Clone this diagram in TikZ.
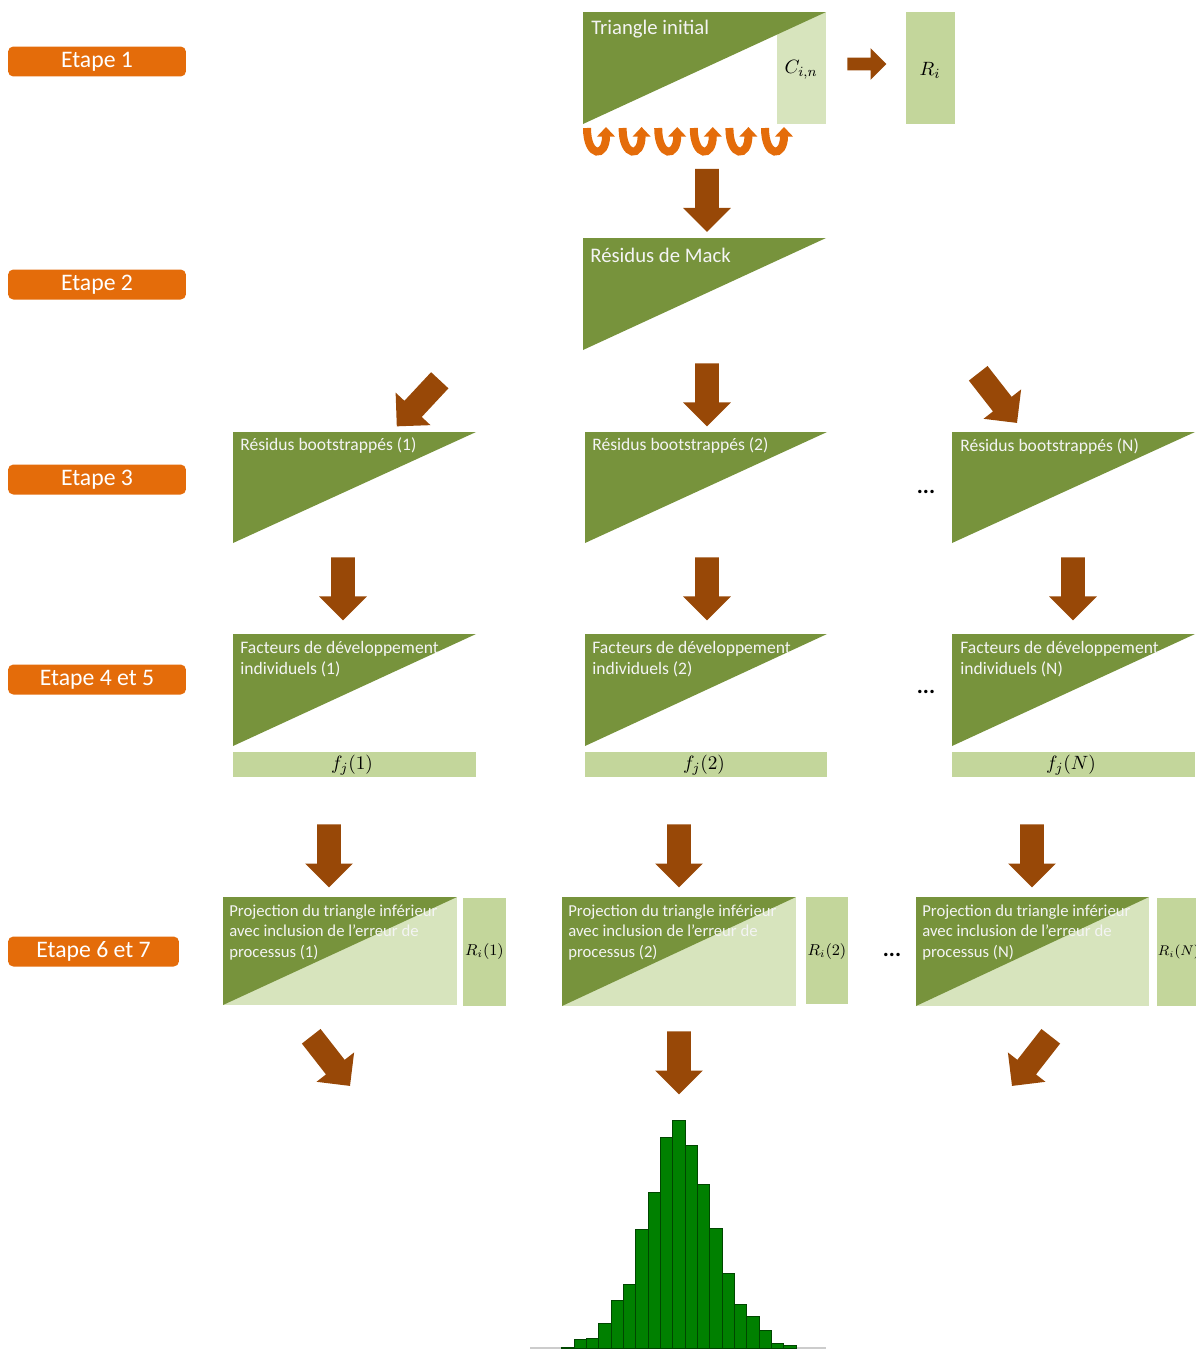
\documentclass[tikz,border=0pt]{standalone}
\usepackage{fontspec}
\setmainfont{Carlito}
\usetikzlibrary{shapes.arrows, arrows.meta, positioning}
\definecolor{OliveDark}{HTML}{77933C}
\definecolor{LightGreen}{HTML}{D7E4BD}
\definecolor{MidGreen}{HTML}{C3D69B}
\definecolor{EtapeOrange}{HTML}{E46C0A}
\definecolor{ArrowBrown}{HTML}{984807}
\definecolor{BarGreen}{HTML}{008000}
\definecolor{SoftWhite}{HTML}{F4F4F4}

\tikzset{
  etape/.style={fill=EtapeOrange, rounded corners=3pt, text=white, inner sep=0pt,
    font=\fontsize{13.5}{15}\selectfont, minimum width=3.56cm, minimum height=0.6cm},
  blockarrow/.style={single arrow, fill=ArrowBrown, draw=none, inner xsep=0pt,
    inner ysep=0.23cm, single arrow head extend=0.24cm, minimum height=1.26cm, anchor=tail},
  smallarrow/.style={blockarrow, inner ysep=0.12cm, single arrow head extend=0.19cm,
    minimum height=0.78cm},
  uturn/.style={draw=EtapeOrange, line width=0.16cm,
    -{Triangle[width=10pt, length=5.5pt]}},
  bigtext/.style={font=\fontsize{11.8}{14}\selectfont, text=SoftWhite, inner sep=0pt},
  smalltext/.style={font=\fontsize{10}{12}\selectfont, text=SoftWhite, inner sep=0pt, align=left},
  projtext/.style={font=\fontsize{9.5}{11.4}\selectfont, text=SoftWhite, inner sep=0pt, align=left},
  dots/.style={font=\fontsize{13}{15}\selectfont\bfseries, inner sep=0pt},
  bar/.style={fill=BarGreen, draw=BarGreen!55!black, line width=0.4pt}
}

\begin{document}
\begin{tikzpicture}[x=0.02cm, y=-0.02cm]
\useasboundingbox (0,0) rectangle (1196,1349);

% labels of the steps
\node[etape] (etape1) at (97,61.5) {Etape 1};
\node[etape] (etape2) at (97,284.5) {Etape 2};
\node[etape] (etape3) at (97,479.5) {Etape 3};
\node[etape] (etape45) at (97,679.5) {Etape 4 et 5};
\node[etape, minimum width=3.42cm] (etape67) at (93.5,951.5) {Etape 6 et 7};

% Etape 1
\fill[LightGreen] (777,12) rectangle (826,124);
\fill[OliveDark] (583,12) -- (826,12) -- (583,124) -- cycle;
\node[bigtext, anchor=base west] (triinit) at (591,34) {Triangle initial};
\node[font=\fontsize{11}{13}\selectfont] (cin) at (801,70) {$C_{i,n}$};
\node[smallarrow] (arrright) at (847,64) {};
\fill[MidGreen] (906,12) rectangle (955,124);
\node[font=\fontsize{11}{13}\selectfont] (ri) at (930,70) {$R_i$};

\draw[uturn] (587,128) .. controls (587,158) and (606,158) .. (606,127);
\draw[uturn] (622.6,128) .. controls (622.6,158) and (641.6,158) .. (641.6,127);
\draw[uturn] (658.2,128) .. controls (658.2,158) and (677.2,158) .. (677.2,127);
\draw[uturn] (693.8,128) .. controls (693.8,158) and (712.8,158) .. (712.8,127);
\draw[uturn] (729.4,128) .. controls (729.4,158) and (748.4,158) .. (748.4,127);
\draw[uturn] (765,128) .. controls (765,158) and (784,158) .. (784,127);

\node[blockarrow, rotate=-90] (arr1) at (707,168.5) {};

% Etape 2
\fill[OliveDark] (583,238) -- (826,238) -- (583,350) -- cycle;
\node[bigtext, anchor=base west] (mack) at (590,262) {Résidus de Mack};

\node[blockarrow, rotate=-133] (arr2a) at (440,380) {};
\node[blockarrow, rotate=-90] (arr2b) at (707,363) {};
\node[blockarrow, rotate=-52] (arr2c) at (978,373) {};

% Etape 3
\fill[OliveDark] (233,432) -- (476,432) -- (233,543) -- cycle;
\node[smalltext, anchor=base west] (boot1) at (240,450) {Résidus bootstrappés (1)};
\fill[OliveDark] (585,432) -- (827,432) -- (585,543) -- cycle;
\node[smalltext, anchor=base west] (boot2) at (592,450) {Résidus bootstrappés (2)};
\fill[OliveDark] (952,432) -- (1195,432) -- (952,543) -- cycle;
\node[smalltext, anchor=base west] (bootN) at (960,451) {Résidus bootstrappés (N)};
\node[dots, anchor=base] (dots3) at (926,493) {...};

\node[blockarrow, rotate=-90] (arr3a) at (343,557) {};
\node[blockarrow, rotate=-90] (arr3b) at (707,557) {};
\node[blockarrow, rotate=-90] (arr3c) at (1073,557) {};

% Etape 4 et 5
\fill[OliveDark] (233,634) -- (476,634) -- (233,746) -- cycle;
\node[smalltext, anchor=north west] (fact1) at (240,641) {Facteurs de développement\\individuels (1)};
\fill[MidGreen] (233,752) rectangle (476,777);
\node[font=\fontsize{11}{13}\selectfont] (fj1) at (352,765) {$f_j(1)$};

\fill[OliveDark] (585,634) -- (827,634) -- (585,746) -- cycle;
\node[smalltext, anchor=north west] (fact2) at (592,641) {Facteurs de développement\\individuels (2)};
\fill[MidGreen] (585,752) rectangle (827,777);
\node[font=\fontsize{11}{13}\selectfont] (fj2) at (704,765) {$f_j(2)$};

\fill[OliveDark] (952,634) -- (1195,634) -- (952,746) -- cycle;
\node[smalltext, anchor=north west] (factN) at (960,641) {Facteurs de développement\\individuels (N)};
\fill[MidGreen] (952,752) rectangle (1195,777);
\node[font=\fontsize{11}{13}\selectfont] (fjN) at (1071,765) {$f_j(N)$};
\node[dots, anchor=base] (dots4) at (926,693) {...};

\node[blockarrow, rotate=-90] (arr4a) at (329,824) {};
\node[blockarrow, rotate=-90] (arr4b) at (679,824) {};
\node[blockarrow, rotate=-90] (arr4c) at (1032,824) {};

% Etape 6 et 7
\fill[LightGreen] (223,897) rectangle (457,1005);
\fill[OliveDark] (223,897) -- (457,897) -- (223,1005) -- cycle;
\node[projtext, anchor=north west] (proj1) at (229,905) {Projection du triangle inférieur\\avec inclusion de l’erreur de\\processus (1)};
\fill[MidGreen] (463,898) rectangle (506,1006);
\node[font=\fontsize{9}{11}\selectfont] (rproj1) at (484.5,952) {$R_i(1)$};

\fill[LightGreen] (562,897) rectangle (796,1006);
\fill[OliveDark] (562,897) -- (796,897) -- (562,1006) -- cycle;
\node[projtext, anchor=north west] (proj2) at (568,905) {Projection du triangle inférieur\\avec inclusion de l’erreur de\\processus (2)};
\fill[MidGreen] (806,897) rectangle (848,1004);
\node[font=\fontsize{9}{11}\selectfont] (rproj2) at (827,952) {$R_i(2)$};

\fill[LightGreen] (916,897) rectangle (1149,1006);
\fill[OliveDark] (916,897) -- (1149,897) -- (916,1006) -- cycle;
\node[projtext, anchor=north west] (projN) at (922,905) {Projection du triangle inférieur\\avec inclusion de l’erreur de\\processus (N)};
\fill[MidGreen] (1157,898) rectangle (1196,1006);
\node[font=\fontsize{7.8}{10}\selectfont, anchor=west, inner sep=0pt] (rprojN) at (1157.5,952) {$R_i(N)$};
\node[dots, anchor=base] (dots5) at (892,956) {...};

\node[blockarrow, rotate=-52] (arr5a) at (311,1036) {};
\node[blockarrow, rotate=-90] (arr5b) at (679,1031) {};
\node[blockarrow, rotate=-128] (arr5c) at (1051,1036) {};

% histogram
\draw[black!20, line width=0.8pt] (530,1348) -- (826,1348);
\draw[bar] (561.7,1348) rectangle ++(12.33,-1);
\draw[bar] (574.0,1348) rectangle ++(12.33,-8.7);
\draw[bar] (586.3,1348) rectangle ++(12.33,-10);
\draw[bar] (598.7,1348) rectangle ++(12.33,-24.7);
\draw[bar] (611.0,1348) rectangle ++(12.33,-48);
\draw[bar] (623.3,1348) rectangle ++(12.33,-64);
\draw[bar] (635.7,1348) rectangle ++(12.33,-118.7);
\draw[bar] (648.0,1348) rectangle ++(12.33,-155.3);
\draw[bar] (660.3,1348) rectangle ++(12.33,-210.3);
\draw[bar] (672.7,1348) rectangle ++(12.33,-227.3);
\draw[bar] (685.0,1348) rectangle ++(12.33,-202.3);
\draw[bar] (697.3,1348) rectangle ++(12.33,-163.7);
\draw[bar] (709.7,1348) rectangle ++(12.33,-119.3);
\draw[bar] (722.0,1348) rectangle ++(12.33,-74.7);
\draw[bar] (734.3,1348) rectangle ++(12.33,-43.3);
\draw[bar] (746.7,1348) rectangle ++(12.33,-31.3);
\draw[bar] (759.0,1348) rectangle ++(12.33,-17.3);
\draw[bar] (771.3,1348) rectangle ++(12.33,-4.7);
\draw[bar] (783.7,1348) rectangle ++(12.33,-2.3);
\end{tikzpicture}
\end{document}
